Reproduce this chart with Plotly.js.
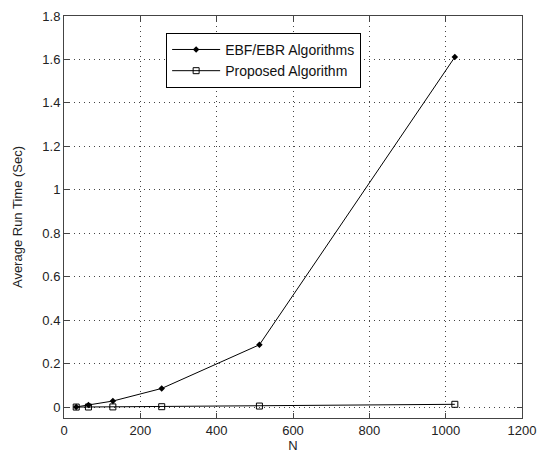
<!DOCTYPE html>
<html>
<head>
<meta charset="utf-8">
<script src="https://cdn.plot.ly/plotly-3.0.1.min.js"></script>
<style>
  html, body { margin: 0; padding: 0; background: #ffffff; }
  #chart { width: 544px; height: 458px; }
</style>
</head>
<body>
<div id="chart"></div>
<script>
const N = [32, 64, 128, 256, 512, 1024];
const ebfEbr = [0.001, 0.010, 0.028, 0.086, 0.287, 1.611];
const proposed = [0.0003, 0.0006, 0.001, 0.002, 0.005, 0.013];
const seriesNames = ["EBF/EBR Algorithms", "Proposed Algorithm"];

const font = { family: "Liberation Sans, Arial, sans-serif", size: 13, color: "#222222" };

const traces = [
  {
    x: N, y: ebfEbr, name: seriesNames[0], type: "scatter", mode: "lines+markers",
    line: { color: "#000000", width: 1 },
    marker: { symbol: "diamond", size: 5, color: "#000000" }
  },
  {
    x: N, y: proposed, name: seriesNames[1], type: "scatter", mode: "lines+markers",
    line: { color: "#000000", width: 1 },
    marker: { symbol: "square-open", size: 6, color: "#000000", line: { width: 1 } }
  }
];

const axisCommon = {
  showline: true, linecolor: "#444444", linewidth: 1, mirror: "ticks",
  ticks: "inside", ticklen: 5, tickcolor: "#444444", tickwidth: 1,
  showgrid: true, gridcolor: "#444444", gridwidth: 1, griddash: "1px,4px",
  zeroline: false, tickfont: font
};

const layout = {
  width: 544, height: 458,
  margin: { l: 64, r: 22, t: 16, b: 40 },
  paper_bgcolor: "#ffffff", plot_bgcolor: "#ffffff",
  font: font,
  showlegend: true,
  legend: {
    x: 0.223, y: 0.958, xanchor: "left", yanchor: "top",
    bgcolor: "#ffffff", bordercolor: "#000000", borderwidth: 1,
    font: { family: font.family, size: 14, color: "#111111" },
    itemwidth: 48,
    tracegroupgap: 0
  },
  xaxis: Object.assign({}, axisCommon, {
    range: [0, 1200], dtick: 200, tick0: 0,
    title: { text: "N", font: font, standoff: 2 }
  }),
  yaxis: Object.assign({}, axisCommon, {
    range: [-0.05, 1.8], dtick: 0.2, tick0: 0,
    title: { text: "Average Run Time (Sec)", font: font, standoff: 16 }
  })
};

Plotly.newPlot("chart", traces, layout, { staticPlot: true, displayModeBar: false });
</script>
</body>
</html>
